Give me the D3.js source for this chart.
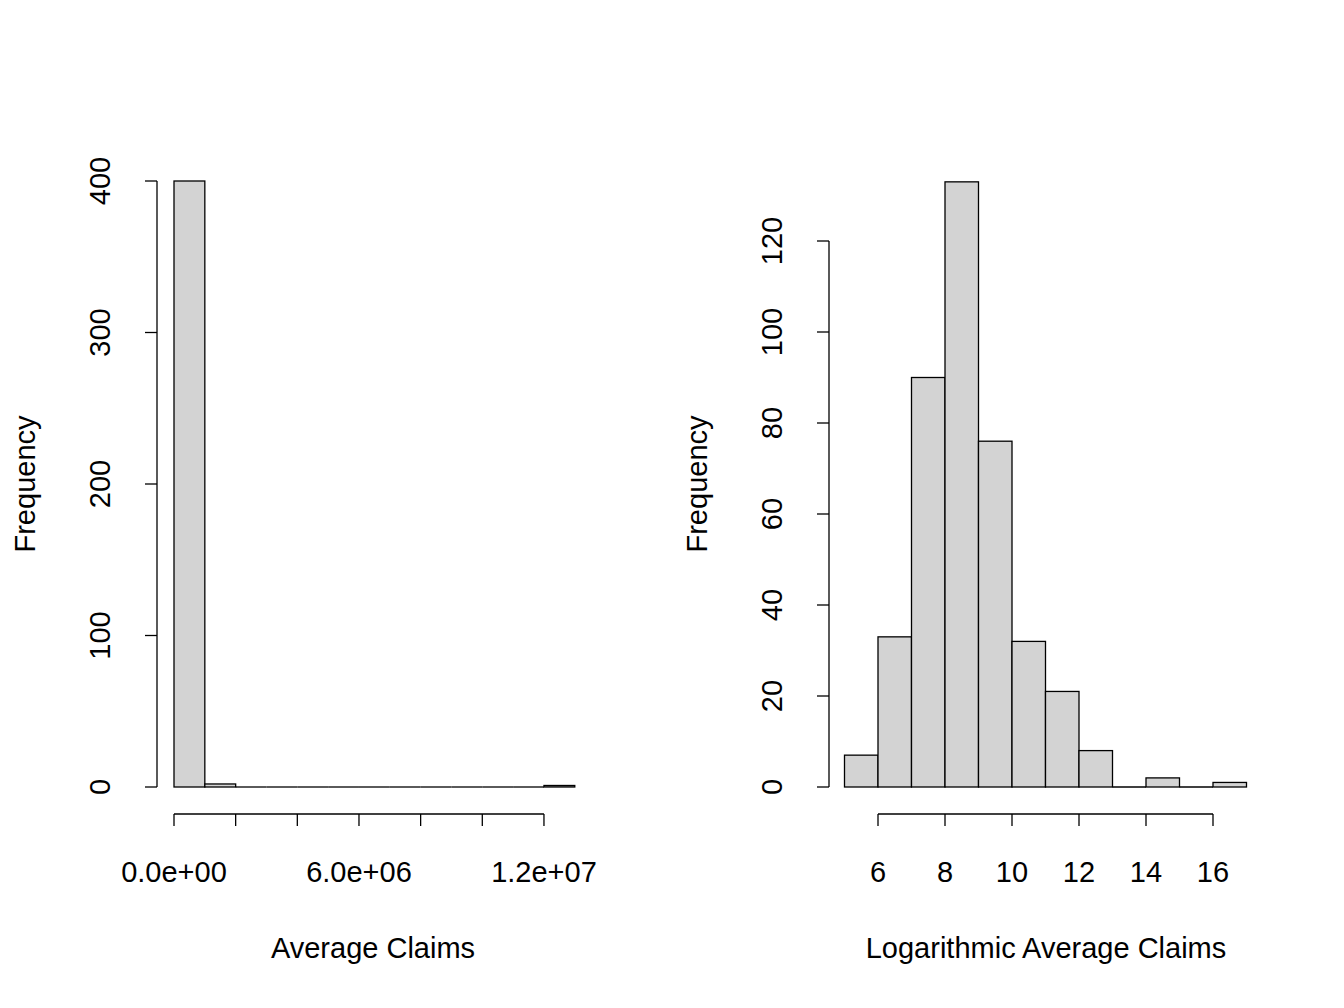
<!DOCTYPE html><html><head><script src="https://cdn.jsdelivr.net/npm/d3@7"></script>
<style>body{margin:0;background:#fff}text{font-family:"Liberation Sans",Arial,sans-serif;fill:#000}</style></head><body>
<script>
const leftBreaks=[0,1e6,2e6,3e6,4e6,5e6,6e6,7e6,8e6,9e6,10e6,11e6,12e6,13e6];
const leftCounts=[400,2,0,0,0,0,0,0,0,0,0,0,1];
const leftXTicks=[0,2e6,4e6,6e6,8e6,10e6,12e6];
const leftXLabels={0:"0.0e+00",6000000:"6.0e+06",12000000:"1.2e+07"};
const leftYTicks=[0,100,200,300,400];
const rightBreaks=[5,6,7,8,9,10,11,12,13,14,15,16,17];
const rightCounts=[7,33,90,133,76,32,21,8,0,2,0,1];
const rightXTicks=[6,8,10,12,14,16];
const rightYTicks=[0,20,40,60,80,100,120];

const FS=29;
const svg=d3.select("body").append("svg").attr("width",1344).attr("height",1008);
function panel(o){
  const g=svg.append("g");
  const x=d3.scaleLinear().domain(o.xd).range(o.xr);
  const y=d3.scaleLinear().domain(o.yd).range([787,787-(o.yd[1]-o.yd[0])*o.ppu]);
  o.counts.forEach((d,i)=>{
    if(d>0) g.append("rect").attr("x",x(o.breaks[i])).attr("width",x(o.breaks[i+1])-x(o.breaks[i]))
      .attr("y",y(d)).attr("height",y(0)-y(d)).attr("fill","#d3d3d3").attr("stroke","#000").attr("stroke-width",1.3);
    else g.append("line").attr("x1",x(o.breaks[i])).attr("x2",x(o.breaks[i+1])).attr("y1",y(0)).attr("y2",y(0)).attr("stroke","#000").attr("stroke-width",1.3);
  });
  const yt=o.yticks;
  g.append("line").attr("x1",o.yax).attr("x2",o.yax).attr("y1",y(yt[0])).attr("y2",y(yt[yt.length-1])).attr("stroke","#000").attr("stroke-width",1.3);
  yt.forEach(t=>{
    g.append("line").attr("x1",o.yax-12).attr("x2",o.yax).attr("y1",y(t)).attr("y2",y(t)).attr("stroke","#000").attr("stroke-width",1.3);
    g.append("text").attr("transform",`translate(${o.yax-57},${y(t)}) rotate(-90)`).attr("text-anchor","middle").attr("dy","0.35em").attr("font-size",FS).text(t);
  });
  const xt=o.xticks;
  g.append("line").attr("x1",x(xt[0])).attr("x2",x(xt[xt.length-1])).attr("y1",814).attr("y2",814).attr("stroke","#000").attr("stroke-width",1.3);
  xt.forEach(t=>{
    g.append("line").attr("x1",x(t)).attr("x2",x(t)).attr("y1",814).attr("y2",826).attr("stroke","#000").attr("stroke-width",1.3);
    const lab=o.xlab(t);
    if(lab!==null) g.append("text").attr("x",x(t)).attr("y",882).attr("text-anchor","middle").attr("font-size",FS).text(lab);
  });
  g.append("text").attr("x",o.titleX).attr("y",958).attr("text-anchor","middle").attr("font-size",FS).text(o.title);
  g.append("text").attr("transform",`translate(${o.yax-132},484) rotate(-90)`).attr("text-anchor","middle").attr("dy","0.35em").attr("font-size",FS).text("Frequency");
}
panel({xd:[0,13e6],xr:[174,174+13*30.83],yd:[0,400],ppu:606/400,breaks:leftBreaks,counts:leftCounts,
  yticks:leftYTicks,xticks:leftXTicks,xlab:t=>leftXLabels[t]!==undefined?leftXLabels[t]:null,yax:157,title:"Average Claims",titleX:373});
panel({xd:[6,16],xr:[878,1213],yd:[0,120],ppu:546/120,breaks:rightBreaks,counts:rightCounts,
  yticks:rightYTicks,xticks:rightXTicks,xlab:t=>t,yax:829,title:"Logarithmic Average Claims",titleX:1046});
</script></body></html>
